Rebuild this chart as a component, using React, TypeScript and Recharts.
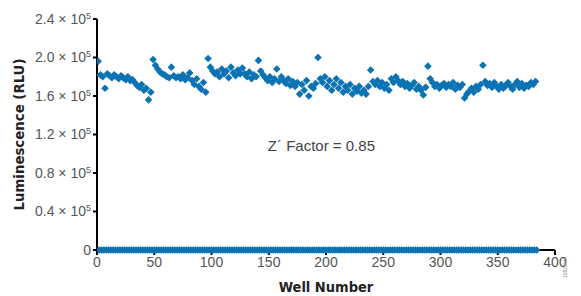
import React from 'react';
import { ScatterChart, Scatter, XAxis, YAxis, ReferenceDot } from 'recharts';

// positive control wells (odd wells 1..383), RLU / 1e5
const positiveRlu: number[] = [
  1.96, 1.82, 1.80, 1.68, 1.83, 1.81, 1.79, 1.82, 1.80, 1.78, 1.81, 1.79, 1.77, 1.80, 1.76, 1.77,
  1.74, 1.71, 1.69, 1.72, 1.66, 1.68, 1.56, 1.64, 1.98, 1.92, 1.88, 1.85, 1.83, 1.82, 1.80, 1.79,
  1.90, 1.81, 1.79, 1.80, 1.78, 1.82, 1.77, 1.79, 1.84, 1.76, 1.72, 1.78, 1.70, 1.67, 1.74, 1.64,
  1.99, 1.90, 1.86, 1.83, 1.85, 1.80, 1.88, 1.83, 1.86, 1.79, 1.90, 1.84, 1.81, 1.87, 1.83, 1.89,
  1.83, 1.80, 1.85, 1.78, 1.82, 1.80, 1.97, 1.86, 1.82, 1.79, 1.76, 1.80, 1.74, 1.78, 1.88, 1.75,
  1.80, 1.76, 1.73, 1.78, 1.71, 1.75, 1.70, 1.74, 1.62, 1.72, 1.66, 1.76, 1.60, 1.70, 1.68, 1.73,
  2.00, 1.78, 1.74, 1.80, 1.70, 1.76, 1.66, 1.72, 1.78, 1.68, 1.74, 1.64, 1.70, 1.66, 1.72, 1.62,
  1.68, 1.65, 1.70, 1.63, 1.66, 1.62, 1.70, 1.87, 1.75, 1.72, 1.76, 1.70, 1.74, 1.68, 1.72, 1.66,
  1.78, 1.74, 1.80, 1.76, 1.72, 1.75, 1.70, 1.73, 1.68, 1.71, 1.74, 1.67, 1.70, 1.66, 1.61, 1.69,
  1.91, 1.78, 1.74, 1.70, 1.72, 1.68, 1.71, 1.73, 1.69, 1.72, 1.70, 1.74, 1.67, 1.71, 1.69, 1.72,
  1.58, 1.62, 1.65, 1.68, 1.64, 1.70, 1.67, 1.72, 1.92, 1.75, 1.71, 1.73, 1.69, 1.74, 1.70, 1.67,
  1.72, 1.68, 1.71, 1.74, 1.70, 1.67, 1.72, 1.75, 1.69, 1.73, 1.68, 1.71, 1.70, 1.74, 1.72, 1.75,
];

// negative control wells (even wells 2..384), RLU / 1e5
const negativeRlu: number[] = [
  0, 0, 0, 0, 0, 0, 0, 0, 0, 0, 0, 0, 0, 0, 0, 0,
  0, 0, 0, 0, 0, 0, 0, 0, 0, 0, 0, 0, 0, 0, 0, 0,
  0, 0, 0, 0, 0, 0, 0, 0, 0, 0, 0, 0, 0, 0, 0, 0,
  0, 0, 0, 0, 0, 0, 0, 0, 0, 0, 0, 0, 0, 0, 0, 0,
  0, 0, 0, 0, 0, 0, 0, 0, 0, 0, 0, 0, 0, 0, 0, 0,
  0, 0, 0, 0, 0, 0, 0, 0, 0, 0, 0, 0, 0, 0, 0, 0,
  0, 0, 0, 0, 0, 0, 0, 0, 0, 0, 0, 0, 0, 0, 0, 0,
  0, 0, 0, 0, 0, 0, 0, 0, 0, 0, 0, 0, 0, 0, 0, 0,
  0, 0, 0, 0, 0, 0, 0, 0, 0, 0, 0, 0, 0, 0, 0, 0,
  0, 0, 0, 0, 0, 0, 0, 0, 0, 0, 0, 0, 0, 0, 0, 0,
  0, 0, 0, 0, 0, 0, 0, 0, 0, 0, 0, 0, 0, 0, 0, 0,
  0, 0, 0, 0, 0, 0, 0, 0, 0, 0, 0, 0, 0, 0, 0, 0,
];

const xTicks = [0, 50, 100, 150, 200, 250, 300, 350, 400];
const yTicks = [0, 40000, 80000, 120000, 160000, 200000, 240000];

const BLUE = '#0b73b3';
const TICK_GREY = '#555555';
const FONT = '"Liberation Sans", Arial, Helvetica, sans-serif';
const BOLD_FONT = '"Liberation Sans Narrow", "Arial Narrow", "DejaVu Sans Condensed", sans-serif';

const positiveData = positiveRlu.map((v, i) => ({ well: 2 * i + 1, rlu: v * 1e5 }));
const negativeData = negativeRlu.map((v, i) => ({ well: 2 * i + 2, rlu: v * 1e5 }));

const Diamond = (props: any) => {
  const { cx, cy, fill } = props;
  const r = 3.8;
  return (
    <polygon
      points={`${cx},${cy - r} ${cx + r},${cy} ${cx},${cy + r} ${cx - r},${cy}`}
      fill={fill}
    />
  );
};

const YTick = (props: any) => {
  const { x, y, payload } = props;
  const v = payload.value as number;
  if (v === 0) {
    return (
      <text x={x} y={y} dy="0.35em" textAnchor="end" fontSize={14} fill={TICK_GREY} fontFamily={FONT}>
        0
      </text>
    );
  }
  return (
    <text x={x} y={y} dy="0.35em" textAnchor="end" fontSize={14} fill={TICK_GREY} fontFamily={FONT}>
      {`${(v / 1e5).toFixed(1)} × 10`}
      <tspan fontSize={9} dy="-0.55em">5</tspan>
    </text>
  );
};

const YLabel = (props: any) => {
  const { viewBox } = props;
  const cy = viewBox.y + viewBox.height / 2;
  const cx = 24;
  return (
    <text
      x={cx}
      y={cy}
      transform={`rotate(-90, ${cx}, ${cy})`}
      textAnchor="middle"
      fontSize={14.8}
      fontWeight="bold"
      fill="#222"
      fontFamily={BOLD_FONT}
    >
      Luminescence (RLU)
    </text>
  );
};

export default function App() {
  return (
    <div style={{ position: 'absolute', left: 0, top: 0, width: 581, height: 296, background: '#fff' }}>
      <ScatterChart width={581} height={296} margin={{ top: 19, right: 26, bottom: 0, left: 0 }}>
        <XAxis
          type="number"
          dataKey="well"
          domain={[0, 400]}
          ticks={xTicks}
          interval={0}
          allowDataOverflow
          stroke="#000"
          strokeWidth={2}
          tickSize={5}
          tickMargin={2}
          height={46}
          tick={{ fontSize: 14, fill: TICK_GREY, fontFamily: FONT }}
          label={{
            value: 'Well Number',
            position: 'insideBottom',
            offset: 4,
            fontSize: 14.5,
            fontWeight: 'bold',
            fill: '#222',
            fontFamily: BOLD_FONT,
          }}
        />
        <YAxis
          type="number"
          dataKey="rlu"
          domain={[0, 240000]}
          ticks={yTicks}
          interval={0}
          stroke="#000"
          strokeWidth={2}
          tickSize={4}
          tickMargin={2}
          width={97}
          tick={<YTick />}
          label={<YLabel />}
        />
        <ReferenceDot
          x={196}
          y={108000}
          r={1}
          fill="none"
          stroke="none"
          label={{ value: 'Z´ Factor = 0.85', position: 'center', fontSize: 15, fill: '#444', fontFamily: FONT }}
        />
        <Scatter data={negativeData} fill={BLUE} shape={<Diamond />} isAnimationActive={false} />
        <Scatter data={positiveData} fill={BLUE} shape={<Diamond />} isAnimationActive={false} />
      </ScatterChart>
      <div
        style={{
          position: 'absolute',
          left: 562,
          top: 278,
          fontSize: 5,
          color: '#888',
          fontFamily: FONT,
          transform: 'rotate(-90deg)',
          transformOrigin: 'left top',
          whiteSpace: 'nowrap',
        }}
      >
        10823MA
      </div>
    </div>
  );
}
